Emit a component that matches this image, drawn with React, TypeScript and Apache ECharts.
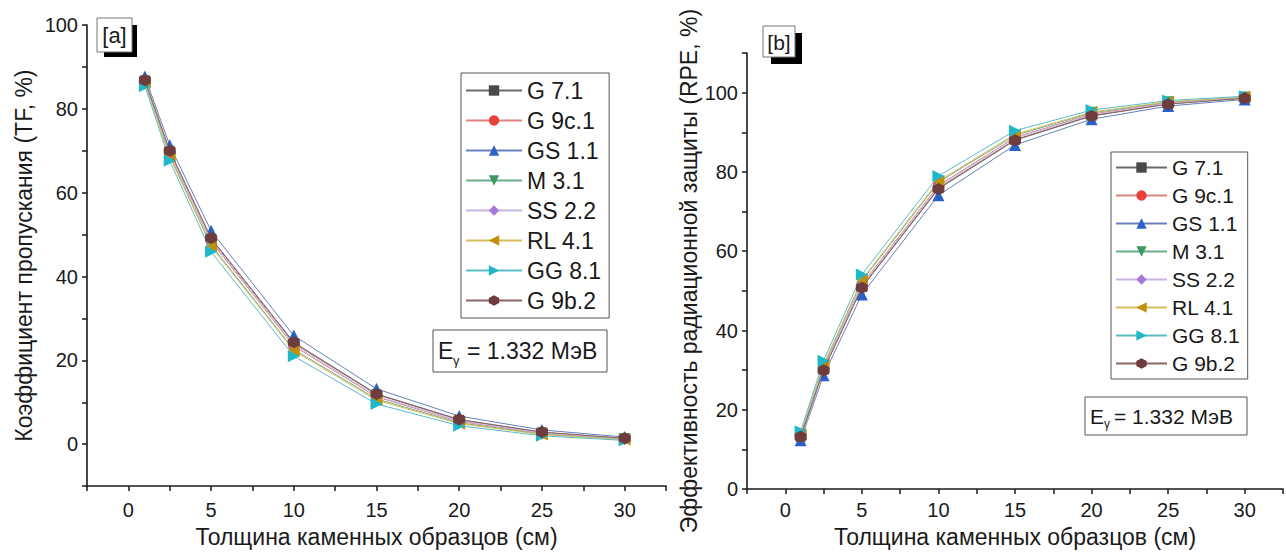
import React, { useEffect, useRef } from "react";
import * as echarts from "echarts";

// ---------- data ----------
const thickness = [1, 2.5, 5, 10, 15, 20, 25, 30];
const materials = ["G 7.1", "G 9c.1", "GS 1.1", "M 3.1", "SS 2.2", "RL 4.1", "GG 8.1", "G 9b.2"];

// Transmission factor TF, %
const tfG71 = [86.8, 69.9, 49.0, 24.1, 11.9, 5.8, 2.8, 1.4];
const tfG9c1 = [86.6, 69.5, 48.4, 23.4, 11.3, 5.4, 2.6, 1.3];
const tfGS11 = [87.7, 71.3, 50.9, 25.9, 13.2, 6.7, 3.4, 1.7];
const tfM31 = [86.3, 68.9, 47.5, 22.6, 10.8, 5.1, 2.4, 1.2];
const tfSS22 = [86.7, 69.7, 48.7, 23.7, 11.5, 5.6, 2.7, 1.3];
const tfRL41 = [86.2, 68.6, 47.2, 22.3, 10.5, 4.9, 2.3, 1.1];
const tfGG81 = [85.4, 67.6, 45.9, 21.0, 9.6, 4.4, 2.0, 0.9];
const tfG9b2 = [86.8, 70.0, 49.2, 24.3, 12.0, 5.9, 2.9, 1.4];

// Radiation protection efficiency RPE, %
const rpeG71 = [13.2, 30.1, 51.0, 75.9, 88.1, 94.2, 97.2, 98.6];
const rpeG9c1 = [13.4, 30.5, 51.6, 76.6, 88.7, 94.6, 97.4, 98.7];
const rpeGS11 = [12.3, 28.7, 49.1, 74.1, 86.8, 93.3, 96.6, 98.3];
const rpeM31 = [13.7, 31.1, 52.5, 77.4, 89.2, 94.9, 97.6, 98.8];
const rpeSS22 = [13.3, 30.3, 51.3, 76.3, 88.5, 94.4, 97.3, 98.7];
const rpeRL41 = [13.8, 31.4, 52.8, 77.7, 89.5, 95.1, 97.7, 98.9];
const rpeGG81 = [14.6, 32.4, 54.1, 79.0, 90.4, 95.6, 98.0, 99.1];
const rpeG9b2 = [13.2, 30.0, 50.8, 75.7, 88.0, 94.1, 97.1, 98.6];

const tfValues = [tfG71, tfG9c1, tfGS11, tfM31, tfSS22, tfRL41, tfGG81, tfG9b2];
const rpeValues = [rpeG71, rpeG9c1, rpeGS11, rpeM31, rpeSS22, rpeRL41, rpeGG81, rpeG9b2];

const xTitle = "Толщина каменных образцов (см)";
const yTitleA = "Коэффициент пропускания (TF, %)";
const yTitleB = "Эффективность радиационной защиты (RPE, %)";
const energyText = "= 1.332 МэВ";

// ---------- styles ----------
const markerColors = ["#4a4a4a", "#e8403a", "#2a60c8", "#3a9a60", "#a878d8", "#c0900a", "#20b8c8", "#6e3c3c"];
const lineColors = ["#6a6a6a", "#e0847e", "#6680bb", "#6cae8a", "#c8b4e4", "#d8bc5c", "#58bcc6", "#8a6464"];
const symbols = [
  "rect",
  "circle",
  "triangle",
  "path://M0,0L10,0L5,9Z",
  "diamond",
  "path://M9,0L9,10L0,5Z",
  "path://M0,0L0,10L9,5Z",
  "path://M5,0L9.33,2.5L9.33,7.5L5,10L0.67,7.5L0.67,2.5Z",
];
const symbolSizes = [10, 11, 12, 12, 12, 12, 12, 12];
const FONT = 'Arial, "Liberation Sans", Helvetica, sans-serif';
const INK = "#1a1a1a";

function xAxisFor(gridIndex: number, gap: number, margin: number) {
  return {
    type: "value",
    gridIndex,
    min: -2.5,
    max: 32.5,
    interval: 2.5,
    axisLine: { show: true, onZero: false, lineStyle: { color: INK, width: 1.6 } },
    axisTick: { show: true, length: 5, lineStyle: { color: INK, width: 1.5 } },
    axisLabel: {
      fontSize: 20,
      color: INK,
      fontFamily: FONT,
      margin,
      formatter: (v: number) => (v % 5 === 0 ? String(v) : ""),
    },
    splitLine: { show: false },
    name: xTitle,
    nameLocation: "middle",
    nameGap: gap,
    nameTextStyle: { fontSize: 23, color: INK, fontFamily: FONT },
  };
}

export default function App() {
  const ref = useRef<HTMLDivElement>(null);

  useEffect(() => {
    if (!ref.current) return;
    const chart = echarts.init(ref.current, undefined, { renderer: "svg" });

    const series: any[] = [];
    materials.forEach((name, i) => {
      const base = {
        name,
        type: "line",
        symbol: symbols[i],
        symbolSize: symbolSizes[i],
        itemStyle: { color: markerColors[i] },
        lineStyle: { color: lineColors[i], width: 1 },
        z: 2 + i,
      };
      series.push({
        ...base,
        xAxisIndex: 0,
        yAxisIndex: 0,
        data: thickness.map((t, k) => [t, tfValues[i][k]]),
      });
      series.push({
        ...base,
        xAxisIndex: 1,
        yAxisIndex: 1,
        data: thickness.map((t, k) => [t, rpeValues[i][k]]),
      });
    });

    const legendBase = {
      data: materials,
      orient: "vertical",
      align: "left",
      selectedMode: false,
      borderColor: "#555",
      borderWidth: 1,
      backgroundColor: "#fff",
    };

    chart.setOption({
      animation: false,
      textStyle: { fontFamily: FONT },
      grid: [
        { left: 87, top: 25, width: 579, height: 468 },
        { left: 747, top: 53, width: 542, height: 444 },
      ],
      xAxis: [xAxisFor(0, 36, 14), xAxisFor(1, 32, 11)],
      yAxis: [
        {
          type: "value",
          gridIndex: 0,
          min: -10,
          max: 100,
          interval: 10,
          axisLine: { show: true, onZero: false, lineStyle: { color: INK, width: 1.6 } },
          axisTick: { show: true, length: 5, lineStyle: { color: INK, width: 1.5 } },
          axisLabel: {
            fontSize: 20,
            color: INK,
            margin: 9,
            formatter: (v: number) => (v >= 0 && v % 20 === 0 ? String(v) : ""),
          },
          splitLine: { show: false },
          name: yTitleA,
          nameLocation: "middle",
          nameGap: 52,
          nameTextStyle: { fontSize: 23, color: INK, fontFamily: FONT },
        },
        {
          type: "value",
          gridIndex: 1,
          min: 0,
          max: 110,
          interval: 10,
          axisLine: { show: true, onZero: false, lineStyle: { color: INK, width: 1.6 } },
          axisTick: { show: true, length: 5, lineStyle: { color: INK, width: 1.5 } },
          axisLabel: {
            fontSize: 20,
            color: INK,
            margin: 9,
            formatter: (v: number) => (v <= 100 && v % 20 === 0 ? String(v) : ""),
          },
          splitLine: { show: false },
          name: yTitleB,
          nameLocation: "middle",
          nameGap: 47,
          nameTextStyle: { fontSize: 23, color: INK, fontFamily: FONT },
        },
      ],
      legend: [
        {
          ...legendBase,
          left: 461,
          top: 73,
          padding: [6, 8, 6, 4],
          itemGap: 7,
          itemWidth: 56,
          itemHeight: 13,
          textStyle: { fontSize: 23, color: INK, fontFamily: FONT },
        },
        {
          ...legendBase,
          left: 1111,
          top: 152,
          padding: [5, 8, 5, 4],
          itemGap: 7,
          itemWidth: 51,
          itemHeight: 13,
          textStyle: { fontSize: 21, color: INK, fontFamily: FONT },
        },
      ],
      graphic: [
        // [a] label
        { type: "rect", shape: { x: 104, y: 25, width: 33, height: 32 }, style: { fill: "#000" }, z: 10 },
        { type: "rect", shape: { x: 97, y: 18, width: 35, height: 34 }, style: { fill: "#fff", stroke: "#777", lineWidth: 1 }, z: 11 },
        { type: "text", x: 114.5, y: 35, style: { text: "[a]", fontSize: 22, fill: INK, fontFamily: FONT, align: "center", verticalAlign: "middle", textAlign: "center", textVerticalAlign: "middle" }, z: 12 },
        // [b] label
        { type: "rect", shape: { x: 771, y: 33, width: 31, height: 31 }, style: { fill: "#000" }, z: 10 },
        { type: "rect", shape: { x: 763, y: 26, width: 32, height: 31 }, style: { fill: "#fff", stroke: "#777", lineWidth: 1 }, z: 11 },
        { type: "text", x: 779, y: 42, style: { text: "[b]", fontSize: 21, fill: INK, fontFamily: FONT, align: "center", verticalAlign: "middle", textAlign: "center", textVerticalAlign: "middle" }, z: 12 },
        // energy box (a)
        { type: "rect", shape: { x: 433, y: 330, width: 174, height: 42 }, style: { fill: "#fff", stroke: "#555", lineWidth: 1 }, z: 10 },
        { type: "text", x: 438, y: 351, style: { text: "E", fontSize: 23, fill: INK, fontFamily: FONT, verticalAlign: "middle", textVerticalAlign: "middle" }, z: 11 },
        { type: "text", x: 453, y: 360, style: { text: "γ", fontSize: 13, fill: INK, fontFamily: FONT, verticalAlign: "middle", textVerticalAlign: "middle" }, z: 11 },
        { type: "text", x: 467, y: 351, style: { text: energyText, fontSize: 23, fill: INK, fontFamily: FONT, verticalAlign: "middle", textVerticalAlign: "middle" }, z: 11 },
        // energy box (b)
        { type: "rect", shape: { x: 1085, y: 397, width: 162, height: 38 }, style: { fill: "#fff", stroke: "#555", lineWidth: 1 }, z: 10 },
        { type: "text", x: 1090, y: 416, style: { text: "E", fontSize: 21, fill: INK, fontFamily: FONT, verticalAlign: "middle", textVerticalAlign: "middle" }, z: 11 },
        { type: "text", x: 1104, y: 424, style: { text: "γ", fontSize: 12, fill: INK, fontFamily: FONT, verticalAlign: "middle", textVerticalAlign: "middle" }, z: 11 },
        { type: "text", x: 1114, y: 416, style: { text: energyText, fontSize: 21, fill: INK, fontFamily: FONT, verticalAlign: "middle", textVerticalAlign: "middle" }, z: 11 },
      ],
      series,
    });

    return () => chart.dispose();
  }, []);

  return (
    <div
      ref={ref}
      style={{ position: "absolute", left: 0, top: 0, width: 1286, height: 553, background: "#fff" }}
    />
  );
}
